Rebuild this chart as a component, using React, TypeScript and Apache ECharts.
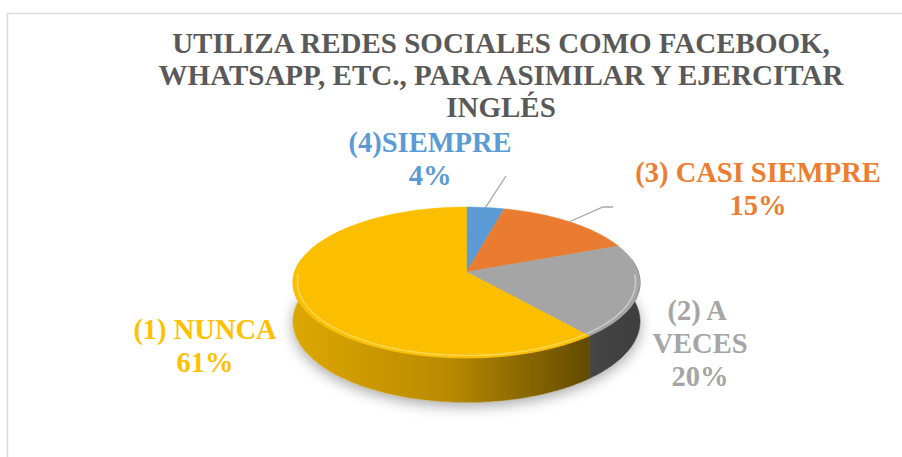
import React, { useEffect, useRef } from "react";
import * as echarts from "echarts";

// ---- data ----
const categories = ["(4)SIEMPRE", "(3) CASI SIEMPRE", "(2) A VECES", "(1) NUNCA"];
const percents = [4, 15, 20, 61];
const titleLines = [
  "UTILIZA REDES SOCIALES COMO FACEBOOK,",
  "WHATSAPP, ETC., PARA ASIMILAR Y EJERCITAR",
  "INGLÉS",
];

// ---- styles / layout ----
const topColors = ["#5b9bd5", "#ea7c31", "#a5a5a5", "#fbbf00"];
const rimColors = ["#8dbbe6", "#f7a36b", "#cfcfcf", "#ffd95c"];
const labelColors = ["#5b9bd5", "#ed7d31", "#a5a5a5", "#ffc000"];
const labelCenters = [
  [430, 159],
  [758, 189],
  [700, 343.5],
  [205, 346],
];
const labelWidths = [300, 300, 110, 300];
const leaderEnds: (number[][] | null)[] = [
  [[506, 176]],
  [[603, 207], [613, 207]],
  null,
  null,
];

const CX = 466.5;
const CY = 272;
const A = 74;
const B = 171.8;
const K = 0.14;
const H = 38;
const FONT_FAMILY = "Liberation Serif";

const total = percents.reduce((s, v) => s + v, 0);
const starts: number[] = [];
percents.reduce((acc, v, i) => {
  starts[i] = acc;
  return acc + v;
}, 0);

function proj(thetaDeg: number, r: number, h: number): number[] {
  const t = (thetaDeg * Math.PI) / 180;
  const u = r * Math.sin(t);
  const v = -r * Math.cos(t);
  const s = 1 / (1 - K * v);
  return [CX + B * u * s, CY + (A * v + H * h) * s];
}

function arc(a0: number, a1: number, r: number, h: number): number[][] {
  const pts: number[][] = [];
  const n = Math.max(2, Math.ceil((a1 - a0) / 1.5));
  for (let j = 0; j <= n; j++) pts.push(proj(a0 + ((a1 - a0) * j) / n, r, h));
  return pts;
}

function sideFill(i: number): any {
  if (i === 3) {
    return {
      type: "linear",
      x: CX - B,
      y: 0,
      x2: CX + B,
      y2: 0,
      global: true,
      colorStops: [
        { offset: 0, color: "#dca700" },
        { offset: 0.45, color: "#b88a00" },
        { offset: 0.85, color: "#644b00" },
        { offset: 1, color: "#5c4500" },
      ],
    };
  }
  if (i === 2) {
    return {
      type: "linear",
      x: CX + 100,
      y: 0,
      x2: CX + B,
      y2: 0,
      global: true,
      colorStops: [
        { offset: 0, color: "#484848" },
        { offset: 1, color: "#3e3e3e" },
      ],
    };
  }
  return i === 1 ? "#9a4f1c" : "#3a6a99";
}

function sliceRange(i: number, v: number) {
  const a0 = (starts[i] / total) * 360;
  const a1 = ((starts[i] + v) / total) * 360;
  return [a0, a1];
}

const option: any = {
  animation: false,
  backgroundColor: "#ffffff",
  graphic: [
    {
      type: "rect",
      shape: { x: 7.5, y: 13.5, width: 1000, height: 1000 },
      style: { fill: "none", stroke: "#d9d9d9", lineWidth: 1.5 },
      silent: true,
    },
    {
      type: "text",
      x: 501,
      y: 75,
      style: {
        text: titleLines.join("\n"),
        fill: "#595959",
        fontFamily: FONT_FAMILY,
        fontWeight: "bold",
        fontSize: 29,
        align: "center",
        verticalAlign: "middle",
        lineHeight: 32.4,
      },
    },
  ],
  series: [
    {
      type: "custom",
      coordinateSystem: "none",
      z: 2,
      data: percents.map((p) => [p]),
      renderItem: (params: any, api: any) => {
        const i = params.dataIndex;
        const v = api.value(0) as number;
        const [a0, a1] = sliceRange(i, v);
        const children: any[] = [];
        if (i === 0) {
          children.push({
            type: "polygon",
            z2: -5,
            shape: { points: arc(0, 360, 1, 1) },
            style: {
              fill: "#ffffff",
              shadowBlur: 14,
              shadowOffsetY: 4,
              shadowColor: "rgba(0,0,0,0.35)",
            },
          });
        }
        const s0 = Math.max(a0, 80);
        const s1 = Math.min(a1, 280);
        if (s1 > s0) {
          const pts = arc(s0, s1, 1, 0).concat(arc(s0, s1, 1, 1).reverse());
          const f = sideFill(i);
          children.push({
            type: "polygon",
            shape: { points: pts },
            style: { fill: f, stroke: f, lineWidth: 0.6 },
          });
        }
        return { type: "group", children };
      },
    },
    {
      type: "custom",
      coordinateSystem: "none",
      z: 3,
      data: percents.map((p) => [p]),
      renderItem: (params: any, api: any) => {
        const i = params.dataIndex;
        const v = api.value(0) as number;
        const [a0, a1] = sliceRange(i, v);
        const children: any[] = [];
        const apex = proj(0, 0, 0);
        children.push({
          type: "polygon",
          shape: { points: [apex].concat(arc(a0, a1, 1, 0)) },
          style: { fill: topColors[i], stroke: topColors[i], lineWidth: 0.6 },
        });
        const r0 = Math.max(a0, 92);
        const r1 = Math.min(a1, 268);
        if (r1 > r0) {
          children.push({
            type: "polyline",
            shape: { points: arc(r0, r1, 0.975, 0) },
            style: { stroke: rimColors[i], lineWidth: 1.6, fill: "none", opacity: 0.85 },
          });
        }
        const ends = leaderEnds[i];
        if (ends) {
          const mid = (a0 + a1) / 2;
          children.push({
            type: "polyline",
            shape: { points: [proj(mid, 1.0, 0)].concat(ends) },
            style: { stroke: "#a6a6a6", lineWidth: 1.3, fill: "none" },
          });
        }
        const [lx, ly] = labelCenters[i];
        children.push({
          type: "text",
          x: lx,
          y: ly,
          style: {
            text: `${categories[i]}\n${Math.round((v / total) * 100)}%`,
            fill: labelColors[i],
            fontFamily: FONT_FAMILY,
            fontWeight: "bold",
            fontSize: 28.5,
            align: "center",
            verticalAlign: "middle",
            lineHeight: 33.4,
            width: labelWidths[i],
            overflow: "break",
          },
        });
        return { type: "group", children };
      },
    },
  ],
};

export default function App() {
  const ref = useRef<HTMLDivElement>(null);
  useEffect(() => {
    const chart = echarts.init(ref.current!, undefined, { renderer: "svg" });
    chart.setOption(option);
    return () => chart.dispose();
  }, []);
  return (
    <div
      ref={ref}
      style={{ position: "fixed", left: 0, top: 0, width: 902, height: 457, background: "#fff" }}
    />
  );
}
